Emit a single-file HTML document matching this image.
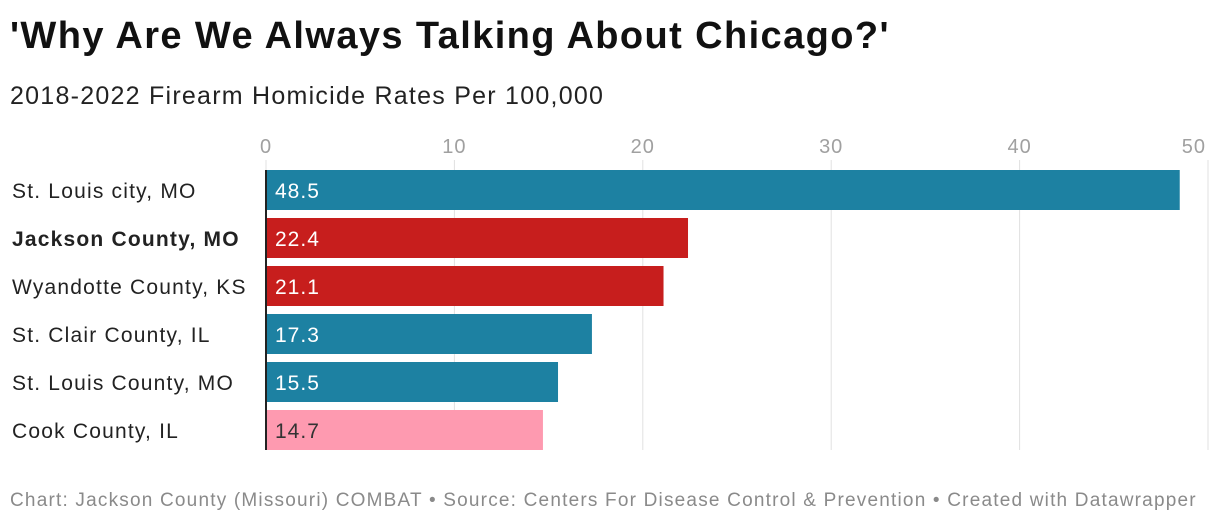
<!DOCTYPE html>
<html><head><meta charset="utf-8"><style>
body{margin:0;background:#fff;font-family:"Liberation Sans",sans-serif;}
#wrap{position:relative;width:1220px;height:526px;overflow:hidden}
.t{position:absolute;white-space:nowrap}
</style></head><body>
<div id="wrap">
<div class="t" style="left:10px;top:15px;font-size:38px;font-weight:bold;color:#111;letter-spacing:1.4px">'Why Are We Always Talking About Chicago?'</div>
<div class="t" style="left:10px;top:82px;font-size:25px;color:#222;letter-spacing:1.25px">2018-2022 Firearm Homicide Rates Per 100,000</div>
<svg id="plot" width="1220" height="526" style="position:absolute;left:0;top:0"></svg>
<div class="t" style="left:10px;top:490px;font-size:19px;color:#8a8a8a;letter-spacing:1.2px">Chart: Jackson County (Missouri) COMBAT • Source: Centers For Disease Control &amp; Prevention • Created with Datawrapper</div>
</div>
<script>
const categories=["St. Louis city, MO","Jackson County, MO","Wyandotte County, KS","St. Clair County, IL","St. Louis County, MO","Cook County, IL"];
const values=[48.5,22.4,21.1,17.3,15.5,14.7];
const barColors=["#1d81a2","#c71e1d","#c71e1d","#1d81a2","#1d81a2","#fe9ab0"];
const ticks=[0,10,20,30,40,50];
const svg=document.getElementById('plot');const NS="http://www.w3.org/2000/svg";
const x0=266,k=18.84,top0=170,pitch=48,bh=40;
const x=v=>x0+v*k;
function mk(t,a){const e=document.createElementNS(NS,t);for(const n in a)e.setAttribute(n,a[n]);svg.appendChild(e);return e;}
ticks.forEach((tv,i)=>{
 const g=mk('line',{x1:x(tv),x2:x(tv),y1:160,y2:450,stroke:'#e0e0e0','stroke-width':1});
 
 
 const last=i===ticks.length-1;
 const l=mk('text',{x:last?x(tv)-2:x(tv),y:153,'font-size':20,fill:'#a0a0a0','text-anchor':last?'end':'middle','font-family':'Liberation Sans','letter-spacing':1});
 l.textContent=tv;
 
 
});
categories.forEach((c,i)=>{
 const y=top0+i*pitch;
 const r=mk('rect',{x:x(0),y:y,width:x(values[i])-x(0),height:bh,fill:barColors[i]});
 
 
 const v=mk('text',{x:x(0)+9,y:y+28,'font-size':21,fill:i===5?'#333':'#fff','font-family':'Liberation Sans','letter-spacing':1});
 v.textContent=values[i];
 
 
 const l=mk('text',{x:12,y:y+28,'font-size':21,fill:'#222','font-weight':i===1?'bold':'normal','font-family':'Liberation Sans','letter-spacing':1.2});
 l.textContent=c;
 
 
});
const ax=mk('line',{x1:x(0),x2:x(0),y1:170,y2:450,stroke:'#222','stroke-width':2});


</script>
</body></html>
